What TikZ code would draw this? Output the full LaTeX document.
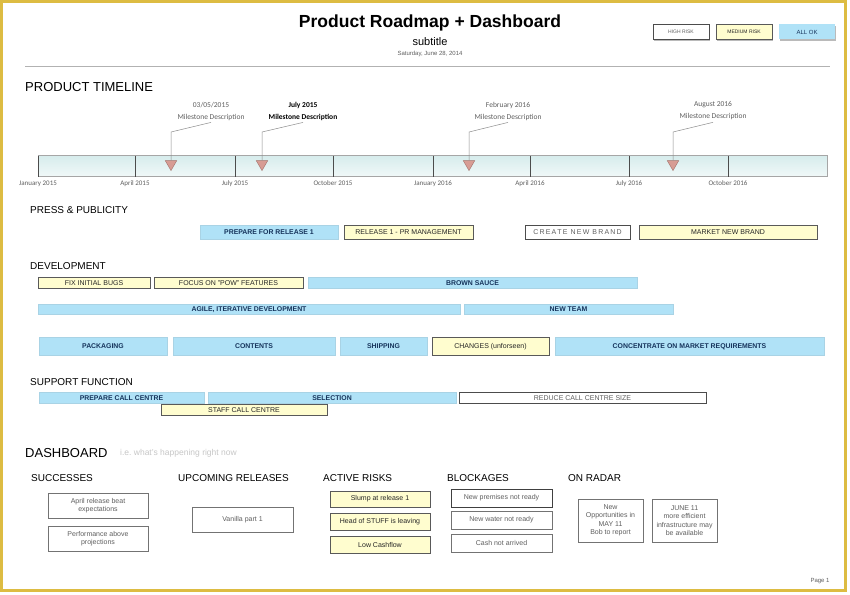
\documentclass[tikz,border=0pt]{standalone}
\usepackage{fontspec}
\setmainfont{Liberation Sans}
\newfontfamily\calib{Carlito}
\usepackage{xcolor}
\usepackage{tikz}
\usetikzlibrary{
  positioning,
  arrows.meta,
  shapes.geometric,
  shadows
}
\definecolor{frameyellow}{RGB}{221,188,66}
\definecolor{barblue}{RGB}{176,226,247}
\definecolor{barnavy}{RGB}{22,52,92}
\definecolor{paleyellow}{RGB}{255,253,207}
\definecolor{tlteal}{RGB}{214,236,236}
\definecolor{msred}{RGB}{214,142,132}
\definecolor{textgray}{RGB}{95,95,95}
\tikzset{
  >=Latex,
  boxshadow/.style={drop shadow={shadow xshift=1.2pt,shadow yshift=-1.2pt,opacity=.45,fill=black!60}},
  bluebar/.style={rectangle,fill=barblue,draw=barblue!85!gray,inner sep=0pt,boxshadow,text=barnavy,
    text height=5pt,text depth=0pt,font=\fontsize{6.9}{7.5}\selectfont\bfseries},
  yellowbar/.style={rectangle,fill=paleyellow,draw=black!65,inner sep=0pt,boxshadow,text=black!85,
    text height=5pt,text depth=0pt,font=\fontsize{7}{8}\selectfont},
  whitebar/.style={rectangle,fill=white,draw=black!70,line width=0.8pt,inner sep=0pt,boxshadow,text=textgray,
    text height=5pt,text depth=0pt,font=\fontsize{7}{8}\selectfont},
  sechead/.style={anchor=west,inner sep=0pt,font=\fontsize{10}{12}\selectfont},
  bighead/.style={anchor=west,inner sep=0pt,font=\fontsize{13}{15}\selectfont},
  tlbar/.style={rectangle,draw=black!35,top color=tlteal,bottom color=tlteal!35,inner sep=0pt},
  tick/.style={black!70,line width=0.9pt},
  ticklab/.style={anchor=base,inner sep=0pt,text=textgray,font=\calib\fontsize{7}{8}\selectfont},
  mslabel/.style={align=center,inner sep=2pt,text=textgray,font=\calib\fontsize{7.5}{12}\selectfont},
  milestone/.style={isosceles triangle,isosceles triangle apex angle=60,shape border rotate=270,
    inner sep=0pt,minimum size=10pt,fill=msred,draw=msred!70!black,opacity=.85},
  leader/.style={black!45,line width=0.5pt},
  dashbox/.style={rectangle,draw=black!55,fill=white,boxshadow,align=center,inner sep=0pt,
    text=textgray,font=\fontsize{7}{8.5}\selectfont},
  riskbox/.style={dashbox,fill=paleyellow,draw=black!65,text=black!85}
}

\begin{document}
\begin{tikzpicture}[x=1pt,y=-1pt]
    \useasboundingbox (0,0) rectangle (850,594);
    \fill[white] (0,0) rectangle (850,594);
    \draw[frameyellow,line width=3.5pt] (1.5,1.5) rectangle (845.5,590.5);

    \node[font=\fontsize{17.5}{20}\selectfont\bfseries] (title) at (430,23) {Product Roadmap + Dashboard};
    \node[font=\fontsize{11}{13}\selectfont] (subtitle) at (430,42) {subtitle};
    \node[text=textgray,font=\fontsize{6}{7}\selectfont] (date) at (430,54) {Saturday, June 28, 2014};
    \node[whitebar,minimum width=56pt,minimum height=15pt,text height=3.6pt,font=\fontsize{5}{6}\selectfont] (hi) at (681,32) {HIGH RISK};
    \node[yellowbar,minimum width=56pt,minimum height=15pt,text height=3.6pt,font=\fontsize{5}{6}\selectfont] (med) at (744,32) {MEDIUM RISK};
    \node[bluebar,draw=none,minimum width=56pt,minimum height=15pt,text height=4.3pt,font=\fontsize{6}{7}\selectfont] (ok) at (807,32) {ALL OK};
    \draw[black!30] (25,66) -- (830,66);

    \node[bighead] (timeline) at (25,87) {PRODUCT TIMELINE};
    \node[tlbar,minimum width=789pt,minimum height=21pt] (tl) at (432.5,166) {};
    \foreach \x/\lab in {38/January 2015,135/April 2015,235/July 2015,333/October 2015,
                         433/January 2016,530/April 2016,629/July 2016,728/October 2016}
    {
        \draw[tick] (\x,155.5) -- (\x,176.5);
        \node[ticklab] (d\x) at (\x,185.5) {\lab};
    }
    \foreach \i/\x/\lx/\lab in {1/171/211/{03/05/2015},3/469/508/February 2016,4/673/713/August 2016}
    {
        \node[milestone,anchor=apex] (mk\i) at (\x,171) {};
        \node[mslabel] (ml\i) at (\lx,111) {\lab\\Milestone Description};
        \draw[leader] (mk\i.north) -- (\x,132) -- (ml\i.south);
    }
    \node[milestone,anchor=apex] (mk2) at (262,171) {};
    \node[mslabel,text=black,font=\calib\bfseries\fontsize{7.5}{12}\selectfont] (ml2) at (303,111) {July 2015\\Milestone Description};
    \draw[leader] (mk2.north) -- (262,132) -- (ml2.south);

    \node[sechead] (press) at (30,210) {PRESS \& PUBLICITY};
    \node[sechead] (dev) at (30,266) {DEVELOPMENT};
    \node[sechead] (support) at (30,382) {SUPPORT FUNCTION};

    \foreach \id/\xa/\xb/\yc/\h/\txt in {
        prep/200/338/232/14/PREPARE FOR RELEASE 1,
        sauce/308/637/282.5/11/BROWN SAUCE,
        agile/38/460/309/10/{AGILE, ITERATIVE DEVELOPMENT},
        team/464/673/309/10/NEW TEAM,
        pack/39/167/346/18/PACKAGING,
        cont/173/335/346/18/CONTENTS,
        ship/340/427/346/18/SHIPPING,
        mreq/555/824/346/18/CONCENTRATE ON MARKET REQUIREMENTS,
        prepcc/39/204/397.5/11/PREPARE CALL CENTRE,
        sel/208/456/397.5/11/SELECTION}
        \node[bluebar,minimum width={(\xb-\xa)*1pt},minimum height=\h pt] (\id) at ({(\xa+\xb)/2},\yc) {\txt};

    \foreach \id/\xa/\xb/\yc/\h/\txt in {
        prman/344/473/232/14/RELEASE 1 - PR MANAGEMENT,
        mbrand/639/817/232/14/MARKET NEW BRAND,
        bugs/38/150/282.5/11/FIX INITIAL BUGS,
        pow/154/303/282.5/11/FOCUS ON "POW" FEATURES,
        chg/432/549/346/18/CHANGES (unforseen),
        staff/161/327/409.5/11/STAFF CALL CENTRE}
        \node[yellowbar,minimum width={(\xb-\xa)*1pt},minimum height=\h pt] (\id) at ({(\xa+\xb)/2},\yc) {\txt};

    \node[whitebar,minimum width=105pt,minimum height=14pt] (cbrand) at (577.5,232) {C\,R\,E\,A\,T\,E\, N\,E\,W\, B\,R\,A\,N\,D};
    \node[whitebar,minimum width=247pt,minimum height=11pt] (reduce) at (582.5,397.5) {REDUCE CALL CENTRE SIZE};

    \node[bighead] (dash) at (25,453) {DASHBOARD};
    \node[anchor=west,inner sep=0pt,text=black!22,font=\fontsize{8.5}{10}\selectfont] (dashnote) at (120,453) {i.e.\ what's happening right now};
    \foreach \id/\x/\txt in {succ/31/SUCCESSES,upc/178/UPCOMING RELEASES,risks/323/ACTIVE RISKS,
                             block/447/BLOCKAGES,radar/568/ON RADAR}
        \node[sechead] (\id) at (\x,478) {\txt};

    \node[dashbox,minimum width=100pt,minimum height=25pt] (s1) at (98,505.5) {April release beat\\expectations};
    \node[dashbox,minimum width=100pt,minimum height=25pt] (s2) at (98,538.5) {Performance above\\projections};
    \node[dashbox,minimum width=101pt,minimum height=25pt] (u1) at (242.5,519.5) {Vanilla part 1};
    \node[riskbox,minimum width=100pt,minimum height=16pt] (r1) at (380,499) {Slump at release 1};
    \node[riskbox,minimum width=100pt,minimum height=17pt] (r2) at (380,521.5) {Head of STUFF is leaving};
    \node[riskbox,minimum width=100pt,minimum height=17pt] (r3) at (380,544.5) {Low Cashflow};
    \node[dashbox,draw=black!75,line width=0.8pt,minimum width=101pt,minimum height=18pt] (b1) at (501.5,498) {New premises not ready};
    \node[dashbox,minimum width=101pt,minimum height=18pt] (b2) at (501.5,520) {New water not ready};
    \node[dashbox,minimum width=101pt,minimum height=18pt] (b3) at (501.5,543) {Cash not arrived};
    \node[dashbox,minimum width=65pt,minimum height=43pt] (o1) at (610.5,520.5) {New\\Opportunities in\\MAY 11\\Bob to report};
    \node[dashbox,minimum width=65pt,minimum height=43pt] (o2) at (684.5,520.5) {JUNE 11\\more efficient\\infrastructure may\\be available};

    \node[text=textgray,font=\fontsize{6}{7}\selectfont] (page) at (820,581) {Page 1};
\end{tikzpicture}
\end{document}
